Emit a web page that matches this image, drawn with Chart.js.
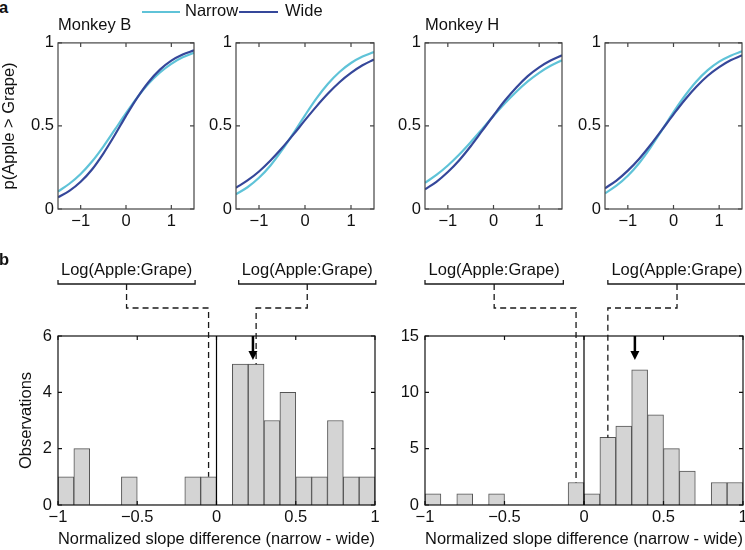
<!DOCTYPE html>
<html><head><meta charset="utf-8">
<script src="https://cdn.jsdelivr.net/npm/chart.js@4/dist/chart.umd.min.js"></script>
<style>
html,body{margin:0;padding:0;background:#fff;overflow:hidden;}
#fig{position:relative;width:745px;height:550px;overflow:hidden;font-family:"Liberation Sans",Arial,Helvetica,sans-serif;color:#111;}
canvas{position:absolute;}
.lbl{position:absolute;white-space:nowrap;font-size:16.5px;line-height:16.5px;}
.bold{font-weight:bold;}
.sw{position:absolute;height:2.6px;}
</style></head><body><div id="fig"></div>
<script>
// ---------- data ----------
const seriesNames = ['Narrow', 'Wide'];
const seriesColors = ['#5fc3d8', '#35479a'];
const panelTitles = ['Monkey B', 'Monkey H'];
const yTitleTop = 'p(Apple > Grape)';
const yTitleHist = 'Observations';
const xTitleHist = 'Normalized slope difference (narrow - wide)';
const bracketLabel = 'Log(Apple:Grape)';

const logRatio = [-1.5,-1.25,-1,-0.75,-0.5,-0.25,0,0.25,0.5,0.75,1,1.25,1.5];
const B1_narrow = [0.105,0.152,0.211,0.286,0.376,0.476,0.577,0.672,0.755,0.822,0.874,0.913,0.940];
const B1_wide   = [0.071,0.109,0.164,0.238,0.334,0.444,0.561,0.671,0.765,0.839,0.893,0.930,0.955];
const B2_narrow = [0.089,0.131,0.188,0.262,0.354,0.457,0.564,0.666,0.754,0.825,0.879,0.918,0.945];
const B2_wide   = [0.128,0.172,0.226,0.292,0.367,0.449,0.535,0.618,0.695,0.763,0.819,0.865,0.900];
const H1_narrow = [0.158,0.205,0.262,0.328,0.402,0.481,0.560,0.636,0.706,0.768,0.820,0.862,0.896];
const H1_wide   = [0.119,0.164,0.223,0.294,0.378,0.470,0.563,0.653,0.732,0.800,0.853,0.894,0.925];
const H2_narrow = [0.095,0.140,0.200,0.277,0.371,0.476,0.583,0.682,0.768,0.836,0.887,0.923,0.949];
const H2_wide   = [0.125,0.171,0.231,0.303,0.387,0.478,0.570,0.658,0.736,0.802,0.854,0.895,0.925];

const xTicksTop = [-1, 0, 1];
const yTicksTop = [0, 0.5, 1];

const binCenters = [-0.95,-0.85,-0.75,-0.65,-0.55,-0.45,-0.35,-0.25,-0.15,-0.05,0.05,0.15,0.25,0.35,0.45,0.55,0.65,0.75,0.85,0.95];
const countsB = [1,2,0,0,1,0,0,0,1,1,0,5,5,3,4,1,1,3,1,1];
const countsH = [1,0,1,0,1,0,0,0,0,2,1,6,7,12,8,5,3,0,2,2];
const xTicksHist = [-1, -0.5, 0, 0.5, 1];
const yTicksB = [0, 2, 4, 6];
const yTicksH = [0, 5, 10, 15];
const medianB = 0.23, medianH = 0.32;
const guidesB = [-0.05, 0.25];
const guidesH = [-0.05, 0.15];
const bracketsB = [[-1, -0.135], [0.14, 1.005]];
const bracketsH = [[-1, -0.13], [0.15, 1.02]];

// ---------- setup ----------
const FONT = '"Liberation Sans", Arial, Helvetica, sans-serif';
Chart.defaults.font.family = FONT;
Chart.defaults.font.size = 16.5;
Chart.defaults.color = '#111';
Chart.defaults.animation = false;
const fig = document.getElementById('fig');
const fmt = v => String(v).replace('-', '\u2212');

function makeCanvas(left, top, w, h) {
  const c = document.createElement('canvas');
  c.width = w; c.height = h;
  c.style.left = left + 'px'; c.style.top = top + 'px';
  c.style.width = w + 'px'; c.style.height = h + 'px';
  fig.appendChild(c);
  return c;
}
function addText(txt, left, top, cls) {
  const d = document.createElement('div');
  d.className = 'lbl' + (cls ? ' ' + cls : '');
  d.textContent = txt; d.style.left = left + 'px'; d.style.top = top + 'px';
  fig.appendChild(d);
}

const boxPlugin = {
  id: 'box',
  afterDatasetsDraw(chart, args, o) {
    const {ctx, chartArea: a, scales: {x: xs, y: ys}} = chart;
    ctx.save();
    ctx.strokeStyle = o.color; ctx.lineWidth = o.width;
    ctx.strokeRect(a.left, a.top, a.right - a.left, a.bottom - a.top);
    ctx.beginPath();
    xs.ticks.forEach(t => {
      const p = xs.getPixelForValue(t.value);
      ctx.moveTo(p, a.bottom); ctx.lineTo(p, a.bottom - o.len);
      ctx.moveTo(p, a.top); ctx.lineTo(p, a.top + o.len);
    });
    ys.ticks.forEach(t => {
      const p = ys.getPixelForValue(t.value);
      ctx.moveTo(a.left, p); ctx.lineTo(a.left + o.len, p);
      ctx.moveTo(a.right, p); ctx.lineTo(a.right - o.len, p);
    });
    ctx.stroke();
    ctx.restore();
  }
};

const histMarks = {
  id: 'histMarks',
  afterDatasetsDraw(chart, args, o) {
    const {ctx, chartArea: a, scales: {x: xs, y: ys}} = chart;
    ctx.save();
    // zero line
    const x0 = xs.getPixelForValue(0);
    ctx.strokeStyle = '#000'; ctx.lineWidth = 1.2;
    ctx.beginPath(); ctx.moveTo(x0, a.top); ctx.lineTo(x0, a.bottom); ctx.stroke();
    // brackets + dashed guides
    o.brackets.forEach((b, i) => {
      const x1 = xs.getPixelForValue(b[0]), x2 = xs.getPixelForValue(b[1]);
      const xc = (x1 + x2) / 2, yl = a.top - 52;
      ctx.setLineDash([]);
      ctx.strokeStyle = '#1a1a1a'; ctx.lineWidth = 1.3;
      ctx.beginPath();
      ctx.moveTo(x1, yl - 4); ctx.lineTo(x1, yl); ctx.lineTo(x2, yl); ctx.lineTo(x2, yl - 4);
      ctx.stroke();
      ctx.fillStyle = '#111';
      ctx.font = '16.5px ' + FONT;
      ctx.textAlign = 'center'; ctx.textBaseline = 'alphabetic';
      ctx.fillText(o.label, xc, a.top - 61.5);
      const g = o.guides[i];
      const bin = o.centers.findIndex(c => Math.abs(c - g) < 0.0501);
      const xt = xs.getPixelForValue(g), yt = ys.getPixelForValue(o.counts[bin]);
      ctx.setLineDash([6, 4]);
      ctx.beginPath();
      ctx.moveTo(xc, yl); ctx.lineTo(xc, a.top - 28); ctx.lineTo(xt, a.top - 28); ctx.lineTo(xt, yt);
      ctx.stroke();
    });
    ctx.setLineDash([]);
    // median arrow
    const xm = xs.getPixelForValue(o.median);
    ctx.strokeStyle = '#000'; ctx.fillStyle = '#000'; ctx.lineWidth = 2.5;
    ctx.beginPath(); ctx.moveTo(xm, a.top); ctx.lineTo(xm, a.top + 16); ctx.stroke();
    ctx.beginPath(); ctx.moveTo(xm - 4.5, a.top + 15); ctx.lineTo(xm + 4.5, a.top + 15); ctx.lineTo(xm, a.top + 24); ctx.closePath(); ctx.fill();
    ctx.restore();
  }
};

function tickList(list) { return s => { s.ticks = list.map(v => ({value: v})); }; }

function curvePanel(plotLeft, plotW, yw, narrow, wide, showTitle) {
  const PT = 12, PR = 10, XH = 30, plotTop = 41, plotH = 168;
  const c = makeCanvas(plotLeft - yw, plotTop - PT, yw + plotW + PR, PT + plotH + XH);
  const mk = (arr, k) => ({
    label: seriesNames[k], data: logRatio.map((x, i) => ({x, y: arr[i]})),
    borderColor: seriesColors[k], borderWidth: 2.2, pointRadius: 0,
    cubicInterpolationMode: 'monotone', fill: false
  });
  new Chart(c, {
    type: 'line',
    data: {datasets: [mk(wide, 1), mk(narrow, 0)]},
    options: {
      responsive: false, animation: false, devicePixelRatio: 1,
      layout: {padding: {top: PT, right: PR, left: 0, bottom: 0}, autoPadding: false},
      plugins: {legend: {display: false}, tooltip: {enabled: false}, box: {color: '#444', width: 1.2, len: 4}},
      scales: {
        x: {type: 'linear', min: -1.5, max: 1.5, afterBuildTicks: tickList(xTicksTop), afterFit: s => { s.height = XH; },
            grid: {display: false, drawTicks: false}, border: {display: false},
            ticks: {padding: 3, callback: v => fmt(v), maxRotation: 0, autoSkip: false}},
        y: {type: 'linear', min: 0, max: 1, afterBuildTicks: tickList(yTicksTop), afterFit: s => { s.width = yw; },
            grid: {display: false, drawTicks: false}, border: {display: false},
            ticks: {padding: 4, callback: v => fmt(v)},
            title: {display: showTitle, text: yTitleTop, padding: {top: 0, bottom: 0}}}
      }
    },
    plugins: [boxPlugin]
  });
}

function histPanel(plotLeft, plotW, yw, counts, yTicks, median, guides, brackets, showTitle) {
  const PT = 81, PR = 10, XH = 45, plotTop = 336, plotH = 169;
  const c = makeCanvas(plotLeft - yw, plotTop - PT, yw + plotW + PR, PT + plotH + XH);
  new Chart(c, {
    type: 'bar',
    data: {datasets: [{
      data: binCenters.map((x, i) => ({x, y: counts[i]})),
      backgroundColor: '#d4d4d4', borderColor: '#555',
      borderWidth: ctx => (ctx.raw && ctx.raw.y) ? 1 : 0,
      barPercentage: 1, categoryPercentage: 1
    }]},
    options: {
      responsive: false, animation: false, devicePixelRatio: 1,
      layout: {padding: {top: PT, right: PR, left: 0, bottom: 0}, autoPadding: false},
      plugins: {legend: {display: false}, tooltip: {enabled: false},
        box: {color: '#111', width: 1.2, len: 4},
        histMarks: {brackets, guides, counts, centers: binCenters, median, label: bracketLabel}},
      scales: {
        x: {type: 'linear', offset: false, min: -1, max: 1, afterBuildTicks: tickList(xTicksHist), afterFit: s => { s.height = XH; },
            grid: {display: false, drawTicks: false, offset: false}, border: {display: false},
            ticks: {padding: 3, callback: v => fmt(v), maxRotation: 0, autoSkip: false},
            title: {display: true, text: xTitleHist, padding: {top: 0, bottom: 1}}},
        y: {type: 'linear', min: 0, max: yTicks[yTicks.length - 1], afterBuildTicks: tickList(yTicks), afterFit: s => { s.width = yw; },
            grid: {display: false, drawTicks: false}, border: {display: false},
            ticks: {padding: 6, callback: v => fmt(v)},
            title: {display: showTitle, text: yTitleHist, padding: {top: 17, bottom: 0}}}
      }
    },
    plugins: [boxPlugin, histMarks]
  });
}

// ---------- panel a ----------
curvePanel(58, 136, 58, B1_narrow, B1_wide, true);
curvePanel(236, 138, 40, B2_narrow, B2_wide, false);
curvePanel(425, 137, 40, H1_narrow, H1_wide, false);
curvePanel(605, 137, 40, H2_narrow, H2_wide, false);

// ---------- panel b ----------
histPanel(58, 317, 58, countsB, yTicksB, medianB, guidesB, bracketsB, true);
histPanel(425, 318, 40, countsH, yTicksH, medianH, guidesH, bracketsH, false);

// ---------- text ----------
addText('a', -1, -1, 'bold');
addText('b', -1, 251, 'bold');
addText(panelTitles[0], 58, 15.5);
addText(panelTitles[1], 425, 15.5);
const legendPos = [[142, 38, 185], [239, 39, 285]];
seriesNames.forEach((n, k) => {
  const s = document.createElement('div');
  s.className = 'sw'; s.style.left = legendPos[k][0] + 'px'; s.style.width = legendPos[k][1] + 'px';
  s.style.top = '10.5px'; s.style.background = seriesColors[k];
  fig.appendChild(s);
  addText(n, legendPos[k][2], 2);
});
</script></body></html>
